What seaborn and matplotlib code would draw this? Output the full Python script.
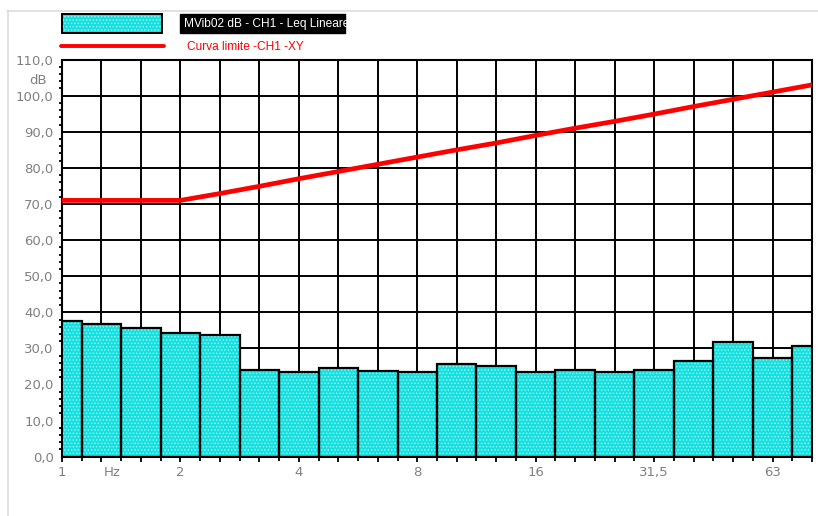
import numpy as np
import pandas as pd
import matplotlib.pyplot as plt
import matplotlib as mpl
import seaborn as sns
from matplotlib.ticker import MultipleLocator, FixedLocator, FuncFormatter
from matplotlib.patches import Rectangle
from matplotlib.lines import Line2D

# data: 1/3 octave bands
freqs = ["1", "1.25", "1.6", "2", "2.5", "3.15", "4", "5", "6.3", "8",
         "10", "12.5", "16", "20", "25", "31.5", "40", "50", "63", "80"]
leq = [37.7, 36.8, 35.6, 34.3, 33.6, 24.1, 23.4, 24.5, 23.7, 23.4,
       25.7, 25.0, 23.5, 24.1, 23.5, 24.1, 26.4, 31.9, 27.4, 30.7]
limit = [71.0, 71.0, 71.0, 71.0, 72.9, 74.9, 77.0, 79.0, 81.0, 83.0,
         85.0, 86.9, 89.0, 91.0, 92.9, 94.9, 97.0, 99.0, 101.0, 103.0]
xtick_labels = {"1": "1", "2": "2", "4": "4", "8": "8",
                "16": "16", "31.5": "31,5", "63": "63"}

series_name = "MVib02 dB - CH1 - Leq Lineare"
limit_name = "Curva limite -CH1 -XY"

df = pd.DataFrame({"freq": freqs, "leq": leq})

sns.set_style("white")
mpl.rcParams["font.family"] = ["DejaVu Sans"]
mpl.rcParams["hatch.linewidth"] = 0.7

W, H = 818, 516
fig = plt.figure(figsize=(W / 100, H / 100), dpi=100)
ax = fig.add_axes([62 / W, 1 - 456.7 / H, 750 / W, (456.7 - 59.6) / H])

cyan = "#14E0E0"
dots = (1, 1, 1, 0.55)
grey = "#808080"
fs = 9.5

# grid first
for v in range(10, 110, 10):
    ax.axhline(v, color="black", lw=1.4, zorder=0)
for i in range(1, len(freqs) - 1):
    ax.axvline(i, color="black", lw=1.4, zorder=0)

# bars: fill with white dotted texture, then black outline
sns.barplot(data=df, x="freq", y="leq", order=freqs, color=cyan,
            saturation=1, width=1.0, linewidth=0, hatch=".....", ax=ax, zorder=2)
for p in ax.patches:
    p._hatch_color = dots
sns.barplot(data=df, x="freq", y="leq", order=freqs, fill=False,
            width=1.0, edgecolor="black", linewidth=1.6, ax=ax, zorder=3)

# limit curve
sns.lineplot(x=np.arange(len(freqs)), y=limit, color="#FF0000", lw=3.4,
             ax=ax, zorder=4, legend=False)

ax.set_xlim(0, len(freqs) - 1)
ax.set_ylim(0, 110)
ax.set_xlabel("")
ax.set_ylabel("")

# y axis
ax.yaxis.set_major_locator(MultipleLocator(10))
ax.yaxis.set_minor_locator(MultipleLocator(2))
ax.yaxis.set_major_formatter(FuncFormatter(lambda v, p: f"{v:.1f}".replace(".", ",")))
ax.tick_params(axis="y", which="major", length=4, width=1.3, color="black",
               labelcolor=grey, labelsize=fs, pad=2)
ax.tick_params(axis="y", which="minor", length=2.5, width=1.3, color="black", left=True)
fig.text(38 / W, 1 - 80 / H, "dB", color=grey, fontsize=fs, ha="center", va="center")

# x axis
ax.xaxis.set_major_locator(FixedLocator(np.arange(len(freqs))))
ax.xaxis.set_minor_locator(FixedLocator(np.arange(0.5, len(freqs) - 1, 1.0)))
ax.set_xticklabels([xtick_labels.get(f, "") for f in freqs])
ax.tick_params(axis="x", which="major", length=3.5, width=1.3, color="black",
               labelcolor=grey, labelsize=fs, pad=3, bottom=True)
ax.tick_params(axis="x", which="minor", length=3, width=1.3, color="black", bottom=True)
ax.annotate("Hz", xy=(1.26, 0), xycoords=("data", "axes fraction"),
            xytext=(0, -6.5), textcoords="offset points", color=grey,
            fontsize=fs, ha="center", va="top")

for side in ["left", "bottom", "top", "right"]:
    ax.spines[side].set_color("black")
    ax.spines[side].set_linewidth(1.5)
    ax.spines[side].set_visible(True)

# legend (custom, as in the original header)
key = Rectangle((62 / W, 1 - 32.5 / H), 100 / W, 18.5 / H, transform=fig.transFigure,
                facecolor=cyan, edgecolor="none", lw=0, hatch=".....")
key._hatch_color = dots
fig.patches.append(key)
fig.patches.append(Rectangle((62 / W, 1 - 32.5 / H), 100 / W, 18.5 / H,
                             transform=fig.transFigure, fill=False,
                             edgecolor="black", lw=1.4))
fig.patches.append(Rectangle((180 / W, 1 - 33 / H), 165 / W, 19 / H,
                             transform=fig.transFigure, facecolor="black",
                             edgecolor="black"))
fig.text(184 / W, 1 - 23.5 / H, series_name, color="white", fontsize=8.6,
         va="center", ha="left", family=["Liberation Sans"])
fig.lines.append(Line2D([61 / W, 164 / W], [1 - 45.7 / H] * 2, transform=fig.transFigure,
                        color="#FF0000", lw=2.8))
fig.text(187 / W, 1 - 47 / H, limit_name, color="#FF0000", fontsize=8.6,
         va="center", ha="left", family=["Liberation Sans"])

# outer light frame
fig.lines.append(Line2D([7 / W, 1], [1 - 10.5 / H] * 2, transform=fig.transFigure,
                        color="#dddddd", lw=1.2))
fig.lines.append(Line2D([7.5 / W] * 2, [0, 1 - 10.5 / H], transform=fig.transFigure,
                        color="#dddddd", lw=1.2))

fig.savefig("out.png", dpi=100, facecolor="white")
plt.close(fig)
